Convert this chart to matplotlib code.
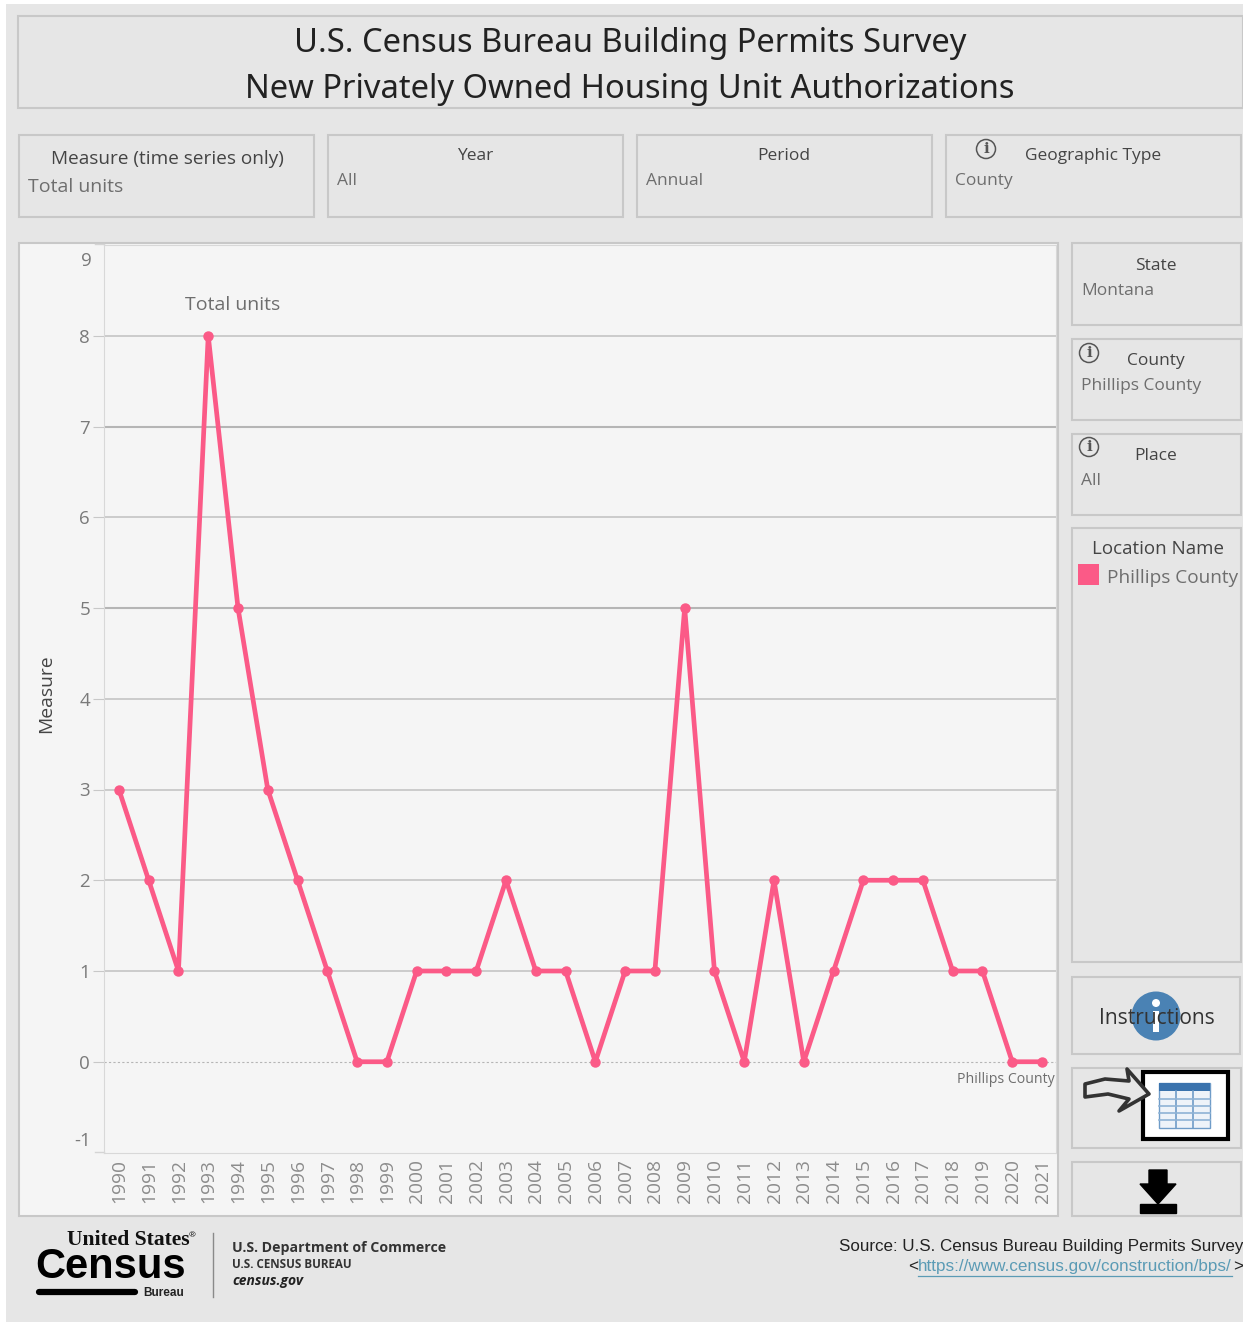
import matplotlib
matplotlib.use("Agg")
from matplotlib import pyplot as plt
from matplotlib.patches import Rectangle, Circle, Polygon
from matplotlib.transforms import ScaledTranslation

plt.rcParams['font.family'] = ['Open Sans', 'DejaVu Sans']

W, H = 1243, 1326

years = list(range(1990, 2022))
total_units = [3, 2, 1, 8, 5, 3, 2, 1, 0, 0, 1, 1, 1, 2, 1, 1, 0, 1, 1, 5, 1, 0, 2, 0, 1, 2, 2, 2, 1, 1, 0, 0]
y_ticks = [0, 1, 2, 3, 4, 5, 6, 7, 8]

PINK = '#fb5a87'
EDGE = '#c8c8c8'
BG = '#e6e6e6'
GREY = '#6e6e6e'
DARK = '#444444'

fig = plt.figure(figsize=(W / 100, H / 100), dpi=100, facecolor='white')

# page layer in pixel coordinates
page = fig.add_axes([0, 0, 1, 1])
page.set_xlim(0, W)
page.set_ylim(H, 0)
page.axis('off')


def box(x0, y0, x1, y1, fc=BG, ec=EDGE, lw=1.5, z=1):
    page.add_patch(Rectangle((x0, y0), x1 - x0, y1 - y0, fc=fc, ec=ec, lw=lw, zorder=z))


def label(x, y, s, size=12.5, color=DARK, ha='center', **kw):
    # open sans sits about 2px high with va=center
    page.text(x, y + 2, s, fontsize=size, color=color, ha=ha, va='center', **kw)


def info(x, y):
    page.add_patch(Circle((x, y), 9.5, fc='none', ec='#555555', lw=1.1, zorder=3))
    page.text(x, y, 'i', fontsize=11, color='#555555', ha='center', va='center',
              family='DejaVu Serif', weight='bold', zorder=3)


page.add_patch(Rectangle((6, 4), W, H - 8, fc=BG, ec='none', zorder=0))

# title
box(18, 16, 1243, 108)
page.text(630, 44, 'U.S. Census Bureau Building Permits Survey', fontsize=23.55, color='#222222',
          ha='center', va='center', family='Noto Sans', weight='medium')
page.text(630, 89, 'New Privately Owned Housing Unit Authorizations', fontsize=23.55, color='#222222',
          ha='center', va='center', family='Noto Sans', weight='medium')

# filter boxes on top
box(19, 135, 314, 217)
label(167, 157, 'Measure (time series only)', 13.7)
label(28, 185, 'Total units', 14, GREY, 'left')

box(328, 135, 623, 217)
label(475, 154, 'Year')
label(337, 179, 'All', color=GREY, ha='left')

box(637, 135, 932, 217)
label(784, 154, 'Period')
label(646, 179, 'Annual', color=GREY, ha='left')

box(946, 135, 1241, 217)
info(986, 149)
label(1093, 154, 'Geographic Type')
label(955, 179, 'County', color=GREY, ha='left')

# right column
box(1072, 243, 1241, 325)
label(1156, 264, 'State')
label(1081, 289, 'Montana', color=GREY, ha='left')

box(1072, 339, 1241, 420)
info(1089, 353)
label(1156, 359, 'County')
label(1081, 384, 'Phillips County', color=GREY, ha='left')

box(1072, 434, 1241, 515)
info(1089, 447)
label(1156, 454, 'Place')
label(1081, 479, 'All', color=GREY, ha='left')

box(1072, 528, 1241, 962)
label(1158, 547, 'Location Name', 13.5)
page.add_patch(Rectangle((1078, 564), 21, 21, fc=PINK, ec='none', zorder=3))
label(1107, 576, 'Phillips County', 13.7, GREY, 'left')

box(1072, 977, 1240, 1054)
page.add_patch(Circle((1156, 1016), 24.5, fc='#4a82b4', ec='none', zorder=2))
page.add_patch(Circle((1156, 1003), 4, fc='white', ec='none', zorder=3))
page.add_patch(Rectangle((1153, 1011), 6, 21, fc='white', ec='none', zorder=3))
label(1157, 1016, 'Instructions', 15.1, '#333333', zorder=4)

box(1072, 1068, 1241, 1148)
page.add_patch(Rectangle((1143, 1072), 85, 67, fc='white', ec='black', lw=3, zorder=3))
page.add_patch(Rectangle((1159, 1083), 51, 45, fc='#eef3f9', ec='#6f9cc8', lw=1, zorder=4))
page.add_patch(Rectangle((1159, 1083), 51, 8, fc='#3a73ad', ec='none', zorder=5))
for gx in (1176, 1193):
    page.plot([gx, gx], [1091, 1128], color='#6f9cc8', lw=1.2, zorder=5)
for gy in (1099, 1106, 1113, 1120):
    page.plot([1159, 1210], [gy, gy], color='#8fb3d6', lw=1.2, zorder=5)
page.add_patch(Polygon([(1085, 1084), (1105, 1079), (1129, 1081), (1127, 1069), (1149, 1094), (1119, 1111),
                        (1129, 1099), (1108, 1094), (1085, 1097)], closed=True,
                       fc='#e6e6e6', ec='#333333', lw=2.6, joinstyle='round', zorder=6))

box(1072, 1162, 1241, 1216)
page.add_patch(Polygon([(1149, 1170), (1167, 1170), (1167, 1184), (1176, 1184), (1158, 1204),
                        (1140, 1184), (1149, 1184)], closed=True, fc='black', ec='black', zorder=3))
page.add_patch(Rectangle((1140, 1204), 36, 9, fc='black', ec='black', zorder=3))

# chart panel
box(19, 243, 1058, 1216, fc='#f5f5f5')

ax = fig.add_axes([104 / W, 1 - 1152.5 / H, (1056 - 104) / W, (1152.5 - 245) / H])
ax.patch.set_alpha(0)
ax.set_xlim(1989.5, 2021.47)
ax.set_ylim(-1, 9)
ax.set_yticks(y_ticks)
ax.set_xticks(years)
ax.set_xticklabels(years, rotation=90, fontsize=13.8, color='#8c8c8c')
ax.set_yticklabels(y_ticks, fontsize=13.5, color='#7a7a7a')
ax.tick_params(axis='y', length=8, color='#c8c8c8', pad=2)
ax.tick_params(axis='x', length=0, pad=5)
for tl in ax.get_xticklabels():
    tl.set_transform(tl.get_transform() + ScaledTranslation(0.5 / 100, 0, fig.dpi_scale_trans))
for v in y_ticks:
    if v == 0:
        ax.axhline(v, color='#b5b5b5', lw=0.8, ls=(0, (2, 2)), zorder=1)
    elif v in (5, 7):
        ax.axhline(v, color='#b5b5b5', lw=1.5, zorder=1)
    else:
        ax.axhline(v, color='#c0c0c0', lw=1.1, zorder=1)
for side in ax.spines:
    ax.spines[side].set_color('#d8d8d8')

ax.plot(years, total_units, color=PINK, lw=3.4, marker='o', ms=6.5, zorder=3, clip_on=False)

# end ticks and labels sit inside the axis range
page.text(86, 261, '9', fontsize=13.5, color='#7a7a7a', ha='center', va='center', zorder=3)
page.text(83, 1141, '-1', fontsize=13.5, color='#7a7a7a', ha='center', va='center', zorder=3)
page.plot([95, 104], [244, 244], color='#d4d4d4', lw=1, zorder=3)
page.plot([95, 104], [1152, 1152], color='#d4d4d4', lw=1, zorder=3)
page.text(46, 694, 'Measure', fontsize=13.9, color=DARK, rotation=90, ha='center', va='center', zorder=3)
ax.text(1993.83, 8.34, 'Total units', fontsize=14, color=GREY, ha='center', va='center')
ax.text(2021.42, -0.2, 'Phillips County', fontsize=10.2, color=GREY, ha='right', va='center')

# logo block
page.text(128, 1240, 'United States', fontsize=15.6, weight='bold', color='#111111', ha='center', va='center',
          family='Liberation Serif')
page.text(192, 1236, '®', fontsize=6, color='#111111', ha='center', va='center')
page.text(111, 1267, 'Census', fontsize=30, weight='bold', color='black', ha='center', va='center',
          family='Liberation Sans')
page.plot([39, 135], [1292, 1292], color='black', lw=4.5, solid_capstyle='round')
page.text(164, 1293, 'Bureau', fontsize=8.5, weight='bold', color='#222222', ha='center', va='center',
          family='Liberation Sans')
page.plot([213, 213], [1233, 1297], color='#8a8a8a', lw=1)
page.text(232, 1248, 'U.S. Department of Commerce', fontsize=10.15, weight='bold', color='#333333', va='center')
page.text(232, 1265, 'U.S. CENSUS BUREAU', fontsize=8.4, weight='bold', color='#333333', va='center')
page.text(232, 1281, 'census.gov', fontsize=10, weight='bold', style='italic', color='#222222', va='center')

# source
page.text(1243, 1247, 'Source: U.S. Census Bureau Building Permits Survey', fontsize=12.25, color='#222222',
          family='Liberation Sans', ha='right', va='center')
page.text(908, 1267, '<', fontsize=12.3, color='#222222', family='Liberation Sans', va='center')
page.text(918, 1267, 'https://www.census.gov/construction/bps/', fontsize=12.35, color='#5b9bb5',
          family='Liberation Sans', va='center')
page.plot([918, 1232], [1276, 1276], color='#5b9bb5', lw=0.9)
page.text(1233, 1267, '>', fontsize=12.3, color='#222222', family='Liberation Sans', va='center')

fig.savefig('out.png', dpi=100)
